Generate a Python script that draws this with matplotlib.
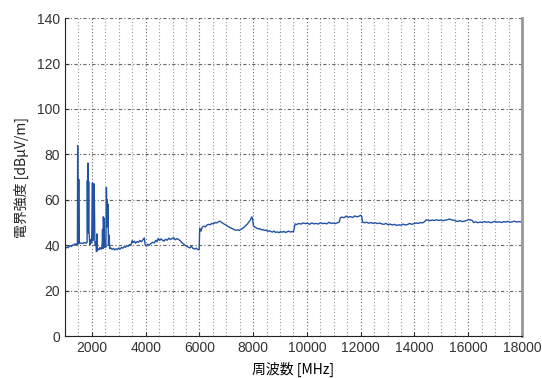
import matplotlib
matplotlib.use("Agg")
import matplotlib.pyplot as plt
from matplotlib.ticker import MultipleLocator

plt.rcParams['font.family'] = ['Liberation Sans', 'Noto Sans CJK JP', 'DejaVu Sans']

# measured field strength sweep (MHz, dBuV/m)
freq_mhz = [
    1000, 1040, 1080, 1120, 1160, 1200, 1240, 1280, 1320, 1360, 1400, 1440, 1460,
    1470, 1480, 1490, 1500, 1510, 1520,
    1540, 1600, 1660, 1720, 1780, 1820,
    1830, 1842, 1854, 1866, 1878, 1890, 1900,
    1915, 1930, 1960, 1990,
    2020, 2035, 2050, 2065, 2080, 2095, 2110,
    2125, 2150, 2170, 2185, 2200, 2220, 2260, 2300, 2340, 2380,
    2395, 2410, 2425, 2440, 2455, 2470,
    2490, 2520,
    2540, 2555, 2570, 2585, 2600, 2615,
    2640, 2660, 2700, 2750, 2800, 2850, 2900, 2950, 3000, 3050, 3100, 3150,
    3200, 3250, 3300, 3350, 3400, 3450, 3500, 3530, 3580, 3620, 3680, 3730,
    3780, 3840, 3900, 3950, 3980, 4020, 4080, 4140, 4200, 4260, 4320, 4380,
    4420, 4470, 4520, 4570, 4620, 4680, 4740, 4800, 4860, 4920, 4980, 5040,
    5100, 5160, 5220, 5280, 5340, 5400, 5460, 5520, 5580, 5640, 5700, 5760,
    5820, 5880, 5940, 5990,
    6010, 6060, 6100, 6160, 6220, 6280, 6340, 6400, 6460, 6520, 6580, 6640,
    6700, 6760, 6820, 6880, 6940, 7000, 7060, 7120, 7180, 7240, 7300, 7360,
    7420, 7480, 7540, 7600, 7660, 7720, 7780, 7840, 7900, 7950, 7980,
    8010, 8060, 8120, 8180, 8240, 8300, 8360, 8420, 8480, 8540, 8600, 8660,
    8720, 8780, 8840, 8900, 8960, 9020, 9080, 9140, 9200, 9260, 9320, 9380,
    9440, 9500,
    9560, 9620, 9700, 9780, 9860, 9940, 10020, 10100, 10180, 10260, 10340,
    10420, 10500, 10580, 10660, 10740, 10820, 10900, 10980, 11060, 11140, 11200,
    11240, 11300, 11380, 11460, 11540, 11620, 11700, 11780, 11860, 11940,
    12000, 12040,
    12070, 12140, 12220, 12300, 12380, 12460, 12540, 12620, 12700, 12780,
    12860, 12940, 13020, 13100, 13180, 13260, 13340, 13420, 13500, 13580,
    13660, 13740, 13820, 13900, 13980, 14060, 14140, 14220, 14300, 14380,
    14440, 14500, 14580, 14660, 14740, 14820, 14900, 14980, 15060, 15140,
    15220, 15300, 15380, 15460, 15540, 15620, 15700, 15780, 15860, 15940,
    16020, 16100, 16160,
    16200, 16280, 16360, 16440, 16520, 16600, 16680, 16760, 16840, 16920,
    17000, 17080, 17160, 17240, 17320, 17400, 17480, 17560, 17640, 17720,
    17800, 17880, 17960, 18000,
]

level_db = [
    38.6, 38.8, 39.2, 38.9, 39.5, 39.8, 39.4, 40.1, 40.0, 40.6, 40.2, 40.5, 40.3,
    83.8, 41.0, 69.2, 40.6, 69.0, 40.8,
    40.8, 41.0, 40.7, 41.2, 40.9, 41.3,
    68.5, 46.0, 76.2, 45.5, 68.0, 46.2, 44.0,
    41.5, 40.2, 42.5, 41.0,
    67.5, 42.0, 66.8, 56.0, 67.0, 57.0, 42.0,
    40.0, 41.5, 37.2, 45.0, 37.5, 38.5, 38.0, 39.0, 38.2, 39.5,
    47.0, 38.5, 52.5, 48.0, 52.0, 39.0,
    40.0, 39.2,
    65.5, 48.0, 60.0, 50.0, 58.0, 40.0,
    44.5, 38.5, 38.8, 38.2, 38.6, 37.9, 38.4, 38.1, 38.8, 38.3, 39.0, 38.7,
    39.4, 39.1, 39.8, 39.5, 40.3, 40.0, 42.0, 41.2, 41.8, 40.9, 41.6, 41.3,
    42.1, 41.5, 42.4, 43.2, 40.2, 39.6, 40.4, 40.1, 40.8, 41.3, 41.0, 42.2,
    41.5, 43.0, 42.1, 42.8, 42.3, 41.8, 42.6, 42.2, 43.1, 42.5, 42.9, 43.3,
    42.4, 42.9, 42.6, 42.0, 41.2, 40.6, 40.0, 39.6, 39.2, 38.8, 39.5, 38.6,
    38.3, 38.7, 38.1, 38.0,
    47.5, 46.2, 47.8, 48.4, 48.1, 48.9, 49.2, 49.0, 49.6, 49.4, 50.0, 49.8,
    50.3, 50.6, 50.1, 49.6, 49.2, 48.8, 48.3, 47.9, 47.5, 47.2, 46.8, 46.6,
    46.8, 46.5, 47.0, 47.4, 47.9, 48.6, 49.3, 50.2, 51.2, 52.5, 51.4,
    48.6, 48.0, 47.6, 47.2, 47.3, 46.8, 46.9, 46.5, 46.7, 46.1, 46.4, 46.0,
    45.8, 46.2, 45.6, 45.9, 45.5, 46.0, 45.7, 46.1, 45.6, 45.9, 46.2, 45.8,
    46.0, 45.9,
    49.4, 49.1, 49.6, 49.3, 49.8, 49.5, 49.7, 49.2, 49.8, 49.4, 49.6,
    49.3, 49.9, 49.5, 49.7, 49.4, 50.1, 49.6, 49.8, 49.5, 49.9, 50.2,
    52.0, 52.4, 52.1, 52.8, 52.3, 52.6, 52.2, 52.9, 52.5, 52.8,
    53.2, 52.6,
    50.2, 49.9, 50.1, 49.7, 50.0, 49.6, 49.9, 49.5, 49.8, 49.4,
    49.2, 49.6, 49.0, 49.3, 48.9, 49.2, 48.7, 49.0, 48.8, 49.3,
    48.9, 49.1, 49.6, 49.2, 49.5, 49.8, 49.6, 50.0, 49.8, 50.4,
    51.2, 51.0, 50.8, 51.1, 50.9, 51.2, 50.9, 51.1, 50.8, 51.0,
    51.2, 51.5, 51.2, 51.0, 50.7, 50.5, 50.8, 50.4, 50.6, 50.9,
    51.3, 51.1, 50.8,
    50.0, 50.3, 49.9, 50.2, 50.0, 50.4, 50.1, 50.3, 49.9, 50.2,
    50.5, 50.1, 50.3, 50.0, 50.4, 50.2, 50.5, 50.1, 50.3, 50.6,
    50.2, 50.4, 50.3, 50.5,
]

x_ticks = [2000, 4000, 6000, 8000, 10000, 12000, 14000, 16000, 18000]
y_ticks = [0, 20, 40, 60, 80, 100, 120, 140]

fig = plt.figure(figsize=(5.42, 3.78), dpi=100)
ax = fig.add_axes([0.12, 0.111, 0.843, 0.841])

ax.plot(freq_mhz, level_db, color="#2152a3", linewidth=1.0)

ax.set_xlim(1000, 18000)
ax.set_ylim(0, 140)
ax.set_xticks(x_ticks)
ax.set_yticks(y_ticks)
ax.xaxis.set_minor_locator(MultipleLocator(500))

# grid: dotted verticals every 500 MHz, dash-dot horizontals
ax.grid(which="major", axis="x", color="#666666", linestyle=(0, (1, 2)), linewidth=0.8)
ax.grid(which="minor", axis="x", color="#999999", linestyle=(0, (1, 2)), linewidth=0.8)
ax.grid(which="major", axis="y", color="#666666", linestyle=(0, (3, 2, 1, 2)), linewidth=0.8)

ax.tick_params(axis="both", which="major", direction="in", length=3, labelsize=10, colors="#333333")
ax.tick_params(axis="both", which="minor", length=0)
for lbl in ax.get_xticklabels() + ax.get_yticklabels():
    lbl.set_color("#333333")

ax.spines["top"].set_visible(False)
ax.spines["right"].set_color("#999999")
ax.spines["right"].set_linewidth(2.0)
ax.spines["left"].set_color("#222222")
ax.spines["bottom"].set_color("#222222")

ax.set_xlabel("周波数 [MHz]", fontsize=10, family=["Noto Sans CJK JP", "DejaVu Sans"], labelpad=5)
ax.set_ylabel("電界強度 [dBμV/m]", fontsize=10, family=["Noto Sans CJK JP", "DejaVu Sans"],
              labelpad=6, color="#222222")

fig.savefig("out.png", dpi=100)
